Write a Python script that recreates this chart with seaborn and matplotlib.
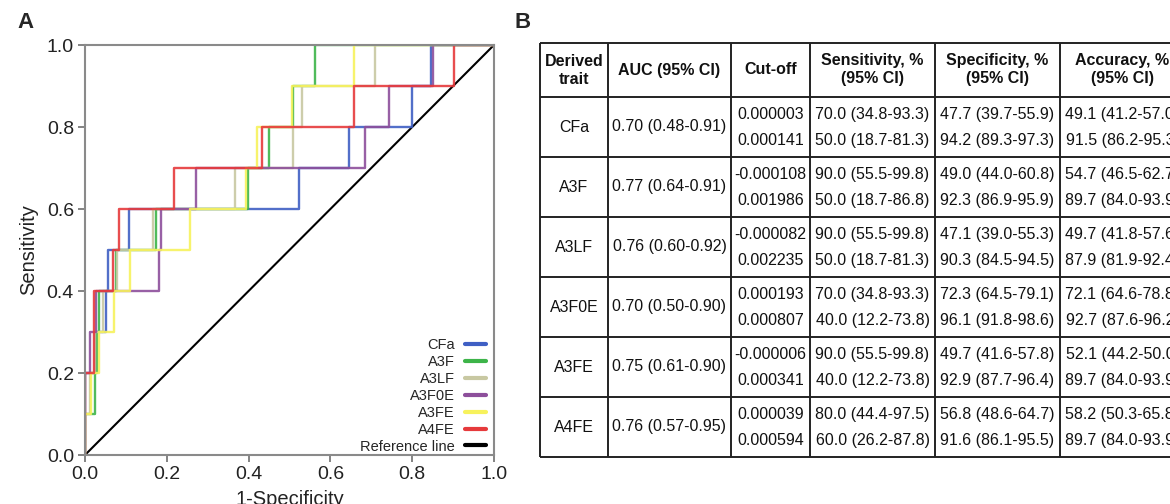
import numpy as np
import pandas as pd
import seaborn as sns
import matplotlib

matplotlib.use("Agg")
import matplotlib.pyplot as plt
from matplotlib.lines import Line2D

sns.set_theme(style="white")
plt.rcParams["font.family"] = ["Liberation Sans", "DejaVu Sans"]

W, H, DPI = 1170, 504, 100

# ---- panel A data: ROC staircase (1-specificity where each sensitivity level is reached)
traits = ["CFa", "A3F", "A3LF", "A3F0E", "A3FE", "A4FE"]
colors = ["#3f5fc4", "#3db449", "#c8c8a2", "#8d4f9b", "#f7f25c", "#e63a3c"]

fpr_cfa = [0, 0, 0.025, 0.051, 0.056, 0.108, 0.523, 0.646, 0.800, 0.846, 1.0]
tpr_cfa = [0, 0.2, 0.3, 0.4, 0.5, 0.6, 0.7, 0.8, 0.9, 1.0, 1.0]

fpr_a3f = [0, 0, 0.025, 0.030, 0.034, 0.077, 0.174, 0.399, 0.450, 0.509, 0.562, 1.0]
tpr_a3f = [0, 0.1, 0.2, 0.3, 0.4, 0.5, 0.6, 0.7, 0.8, 0.9, 1.0, 1.0]

fpr_a3lf = [0, 0, 0.012, 0.025, 0.045, 0.079, 0.167, 0.367, 0.508, 0.530, 0.709, 1.0]
tpr_a3lf = [0, 0.1, 0.2, 0.3, 0.4, 0.5, 0.6, 0.7, 0.8, 0.9, 1.0, 1.0]

fpr_a3f0e = [0, 0, 0.012, 0.028, 0.182, 0.186, 0.271, 0.685, 0.743, 0.851, 1.0]
tpr_a3f0e = [0, 0.2, 0.3, 0.4, 0.5, 0.6, 0.7, 0.8, 0.9, 1.0, 1.0]

fpr_a3fe = [0, 0, 0.014, 0.034, 0.072, 0.110, 0.257, 0.394, 0.420, 0.505, 0.658, 1.0]
tpr_a3fe = [0, 0.1, 0.2, 0.3, 0.4, 0.5, 0.6, 0.7, 0.8, 0.9, 1.0, 1.0]

fpr_a4fe = [0, 0, 0.022, 0.069, 0.084, 0.218, 0.432, 0.658, 0.902, 1.0]
tpr_a4fe = [0, 0.2, 0.4, 0.5, 0.6, 0.7, 0.8, 0.9, 1.0, 1.0]

axis_ticks = [0.0, 0.2, 0.4, 0.6, 0.8, 1.0]

# ---- panel B data
headers = ["Derived\ntrait", "AUC (95% CI)", "Cut-off", "Sensitivity, %\n(95% CI)",
           "Specificity, %\n(95% CI)", "Accuracy, %\n(95% CI)"]
auc = ["0.70 (0.48-0.91)", "0.77 (0.64-0.91)", "0.76 (0.60-0.92)",
       "0.70 (0.50-0.90)", "0.75 (0.61-0.90)", "0.76 (0.57-0.95)"]
cutoff = ["0.000003", "0.000141", "-0.000108", "0.001986", "-0.000082", "0.002235",
          "0.000193", "0.000807", "-0.000006", "0.000341", "0.000039", "0.000594"]
sensitivity = ["70.0 (34.8-93.3)", "50.0 (18.7-81.3)", "90.0 (55.5-99.8)", "50.0 (18.7-86.8)",
               "90.0 (55.5-99.8)", "50.0 (18.7-81.3)", "70.0 (34.8-93.3)", "40.0 (12.2-73.8)",
               "90.0 (55.5-99.8)", "40.0 (12.2-73.8)", "80.0 (44.4-97.5)", "60.0 (26.2-87.8)"]
specificity = ["47.7 (39.7-55.9)", "94.2 (89.3-97.3)", "49.0 (44.0-60.8)", "92.3 (86.9-95.9)",
               "47.1 (39.0-55.3)", "90.3 (84.5-94.5)", "72.3 (64.5-79.1)", "96.1 (91.8-98.6)",
               "49.7 (41.6-57.8)", "92.9 (87.7-96.4)", "56.8 (48.6-64.7)", "91.6 (86.1-95.5)"]
accuracy = ["49.1 (41.2-57.0)", "91.5 (86.2-95.3)", "54.7 (46.5-62.7)", "89.7 (84.0-93.9)",
            "49.7 (41.8-57.6)", "87.9 (81.9-92.4)", "72.1 (64.6-78.8)", "92.7 (87.6-96.2)",
            "52.1 (44.2-50.0)", "89.7 (84.0-93.9)", "58.2 (50.3-65.8)", "89.7 (84.0-93.9)"]

roc = pd.concat(
    [
        pd.DataFrame({"trait": t, "fpr": f, "tpr": s})
        for t, f, s in zip(
            traits,
            [fpr_cfa, fpr_a3f, fpr_a3lf, fpr_a3f0e, fpr_a3fe, fpr_a4fe],
            [tpr_cfa, tpr_a3f, tpr_a3lf, tpr_a3f0e, tpr_a3fe, tpr_a4fe],
        )
    ],
    ignore_index=True,
)
palette = dict(zip(traits, colors))

fig = plt.figure(figsize=(W / DPI, H / DPI), dpi=DPI)

# ---------------- panel A
ax = fig.add_axes([85 / W, 1 - 455 / H, 409 / W, 410 / H])
ax.axline((0, 0), slope=1, color="black", lw=1.5, zorder=1)
sns.lineplot(
    data=roc, x="fpr", y="tpr", hue="trait", palette=palette, sort=False,
    estimator=None, drawstyle="steps-post", lw=1.7, alpha=0.9, legend=False, ax=ax,
)
ax.set_xlim(0, 1)
ax.set_ylim(0, 1)
ax.set_xticks(axis_ticks)
ax.set_yticks(axis_ticks)
ax.set_xticklabels([f"{v:.1f}" for v in axis_ticks])
ax.set_yticklabels([f"{v:.1f}" for v in axis_ticks])
ax.tick_params(direction="out", length=5, width=1.3, color="#7a7a7a",
               labelsize=14, pad=3, labelcolor="#222222", left=True, bottom=True)
for sp in ax.spines.values():
    sp.set_color("#8a8a8a")
    sp.set_linewidth(1.5)
ax.set_xlabel("1-Specificity", fontsize=14.5, labelpad=5, color="#222222")
ax.set_ylabel("Sensitivity", fontsize=14.5, labelpad=6, color="#222222")

handles = [Line2D([], [], color=c, lw=3) for c in colors]
handles.append(Line2D([], [], color="black", lw=3))
ax.legend(
    handles, traits + ["Reference line"], loc="lower right",
    bbox_to_anchor=(0.985, 0.0), frameon=False, markerfirst=False,
    fontsize=10.5, labelspacing=0.2, handlelength=1.45, handletextpad=0.7,
    borderpad=0.1, borderaxespad=0,
)

# ---------------- panel B (table)
col_w = [68, 123, 79, 125, 125, 125]
header_h, group_h = 54, 60
tab_x, tab_y = 540, 43
tab_w = sum(col_w)
tab_h = header_h + group_h * len(traits)
edges = np.concatenate([[0], np.cumsum(col_w)])
mids = (edges[:-1] + edges[1:]) / 2

tb = fig.add_axes([tab_x / W, 1 - (tab_y + tab_h) / H, tab_w / W, tab_h / H])
tb.set_xlim(0, tab_w)
tb.set_ylim(tab_h, 0)
tb.axis("off")

line_kw = dict(color="#222222", lw=1.4, clip_on=False)
tb.hlines([0, header_h] + [header_h + group_h * (g + 1) for g in range(len(traits))],
          0, tab_w, **line_kw)
tb.vlines(edges, 0, tab_h, **line_kw)

for m, h in zip(mids, headers):
    tb.text(m, header_h / 2, h, ha="center", va="center", fontsize=11.5,
            fontweight="bold", linespacing=1.25, color="#111111")

row_cols = [cutoff, sensitivity, specificity, accuracy]
for g, (t, a) in enumerate(zip(traits, auc)):
    gy = header_h + g * group_h
    tb.text(mids[0], gy + group_h / 2, t, ha="center", va="center", fontsize=11.5, color="#111111")
    tb.text(mids[1], gy + group_h / 2, a, ha="center", va="center", fontsize=11.5, color="#111111")
    for r, frac in enumerate([0.29, 0.72]):
        for ci, vals in enumerate(row_cols):
            tb.text(mids[ci + 2], gy + group_h * frac, vals[2 * g + r], ha="center",
                    va="center", fontsize=11.5, color="#111111")

fig.text(17 / W, 1 - 22 / H, "A", fontsize=16, fontweight="bold", va="center", ha="left")
fig.text(515 / W, 1 - 22 / H, "B", fontsize=16, fontweight="bold", va="center", ha="left")

fig.savefig("out.png", dpi=DPI)
